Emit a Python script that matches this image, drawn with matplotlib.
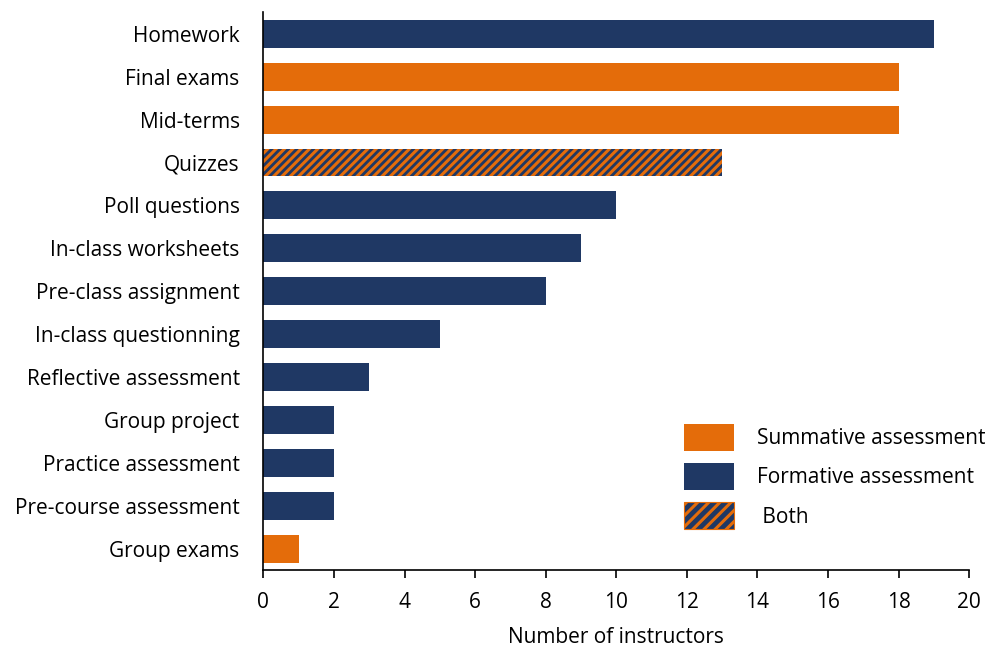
import matplotlib
matplotlib.use("Agg")
import matplotlib.pyplot as plt
from matplotlib.patches import Patch

categories = ["Homework", "Final exams", "Mid-terms", "Quizzes", "Poll questions",
              "In-class worksheets", "Pre-class assignment", "In-class questionning",
              "Reflective assessment", "Group project", "Practice assessment",
              "Pre-course assessment", "Group exams"]
counts = [19, 18, 18, 13, 10, 9, 8, 5, 3, 2, 2, 2, 1]
kinds = ["formative", "summative", "summative", "both", "formative", "formative",
         "formative", "formative", "formative", "formative", "formative",
         "formative", "summative"]

ORANGE = "#E46C0A"
NAVY = "#1F3864"

plt.rcParams['font.family'] = ['Open Sans', 'DejaVu Sans']
plt.rcParams['hatch.linewidth'] = 2.2

fig = plt.figure(figsize=(9.9, 6.48), dpi=100)
ax = fig.add_axes([0.266, 0.12, 0.713, 0.861])

ypos = list(range(len(categories)))
for y, c, k in zip(ypos, counts, kinds):
    if k == "both":
        ax.barh(y, c, height=0.65, color=NAVY, edgecolor=ORANGE, hatch="////", linewidth=0)
    else:
        ax.barh(y, c, height=0.65, color=ORANGE if k == "summative" else NAVY, linewidth=0)

ax.set_yticks(ypos)
ax.set_yticklabels(categories, fontsize=15)
ax.set_ylim(len(categories) - 0.5, -0.5)
ax.set_xlim(0, 20)
ax.set_xticks(range(0, 21, 2))
ax.tick_params(axis='x', labelsize=15, length=6, width=1.2, pad=10)
ax.tick_params(axis='y', length=0, pad=17)
ax.set_xlabel("Number of instructors", fontsize=15, labelpad=10)
for s in ["top", "right"]:
    ax.spines[s].set_visible(False)
for s in ["left", "bottom"]:
    ax.spines[s].set_linewidth(1.2)

handles = [Patch(facecolor=ORANGE, label="Summative assessment"),
           Patch(facecolor=NAVY, label="Formative assessment"),
           Patch(facecolor=NAVY, edgecolor=ORANGE, hatch="///", linewidth=0.8, label=" Both")]
ax.legend(handles=handles, loc="lower left", bbox_to_anchor=(0.57, 0.04), frameon=False,
          fontsize=15, handlelength=2.4, handleheight=1.6, labelspacing=0.6, handletextpad=1.1)

fig.savefig("out.png", dpi=100)
